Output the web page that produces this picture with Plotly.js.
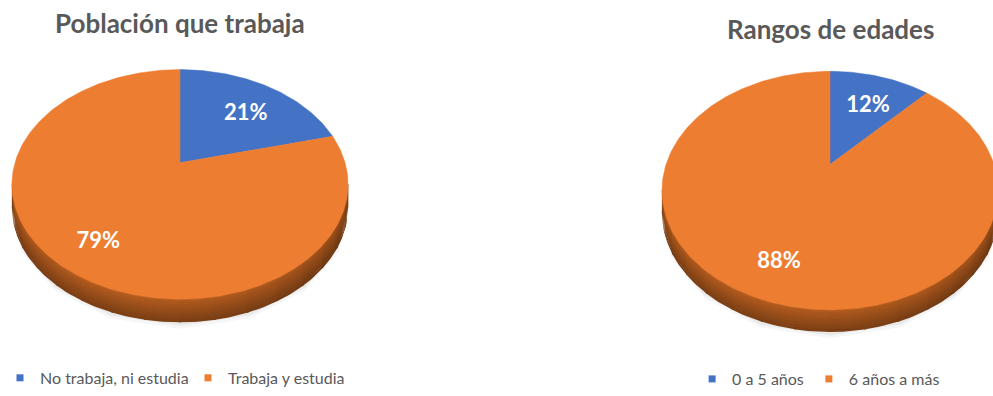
<!DOCTYPE html>
<html><head><meta charset="utf-8">
<script src="https://cdn.plot.ly/plotly-3.0.1.min.js"></script>
<style>html,body{margin:0;padding:0;background:#fff}#chart{width:993px;height:396px}</style>
</head><body><div id="chart"></div>
<script>
// ---- data ----
const chart1Title = "Población que trabaja";
const chart1Labels = ["No trabaja, ni estudia", "Trabaja y estudia"];
const chart1Values = [21, 79];
const chart2Title = "Rangos de edades";
const chart2Labels = ["0 a 5 años", "6 años a más"];
const chart2Values = [12, 88];

// ---- styles ----
const sliceColors = ["#4472C4", "#ED7D31"];
const sideColors = ["#2E5596", "#B05A1E"];
const textGray = "#595959";
const FONT = "Lato, 'Open Sans', sans-serif";

// ---- layout geometry of the tilted 3D pies (pixel space) ----
const pies = [
  {title: chart1Title, labels: chart1Labels, values: chart1Values, legend: "legend",
   cx: 180, cy: 166, A: 113, B: 165, k: 0.19, depth: 23, tx: 180, ty: 23},
  {title: chart2Title, labels: chart2Labels, values: chart2Values, legend: "legend2",
   cx: 830, cy: 168, A: 116, B: 164, k: 0.218, depth: 22, tx: 830, ty: 29.5}
];

function proj(p, r, deg) {
  const t = deg * Math.PI / 180;
  const rc = r * Math.cos(t), rs = r * Math.sin(t);
  const den = 1 + p.k * rs;
  return [p.cx + p.B * rc / den, p.cy - p.A * rs / den];
}
function shade(hex, f) {
  const n = parseInt(hex.slice(1), 16);
  const c = [(n >> 16) & 255, (n >> 8) & 255, n & 255].map(v => Math.max(0, Math.min(255, Math.round(v * f))));
  return "rgb(" + c.join(",") + ")";
}
function sidePoly(p, d1, d2, z1, z2) {
  const xs = [], ys = [], m = 8;
  for (let q = 0; q <= m; q++) { const pt = proj(p, 1, d1 + (d2 - d1) * q / m); xs.push(pt[0]); ys.push(pt[1] + z1); }
  for (let q = m; q >= 0; q--) { const pt = proj(p, 1, d1 + (d2 - d1) * q / m); xs.push(pt[0]); ys.push(pt[1] + z2); }
  return [xs, ys];
}

const traces = [];
const annotations = [];
const bands = 9;

pies.forEach(p => {
  const total = p.values.reduce((a, b) => a + b, 0);
  let cum = 0;
  const slices = p.values.map((v, i) => {
    const hi = 90 - 360 * cum / total;
    cum += v;
    const lo = 90 - 360 * cum / total;
    return {i, lo, hi, v};
  });
  const a = Math.asin(p.k) * 180 / Math.PI;
  const fLo = 180 + a, fHi = 360 - a;
  // soft shadow under the pie
  [[7, 0.035], [4, 0.05]].forEach(([dz, op]) => {
    const sh = sidePoly(p, fLo - 2, fHi + 2, 0, p.depth + dz);
    traces.push({type: "scatter", mode: "lines", x: sh[0], y: sh[1], fill: "toself",
      fillcolor: "rgba(0,0,0," + op + ")", line: {width: 0}, hoverinfo: "skip", showlegend: false});
  });
  // visible front side of the rim
  slices.forEach(s => {
    [-360, 0, 360].forEach(off => {
      const lo = Math.max(s.lo + off, fLo), hi = Math.min(s.hi + off, fHi);
      if (hi <= lo) return;
      const base = sidePoly(p, lo, hi, 0, p.depth);
      const bc = shade(sideColors[s.i], 0.8);
      traces.push({type: "scatter", mode: "lines", x: base[0], y: base[1], fill: "toself", fillcolor: bc,
        line: {color: bc, width: 0.6}, hoverinfo: "skip", showlegend: false});
      const n = Math.max(1, Math.ceil((hi - lo) / 10));
      for (let j = 0; j < n; j++) {
        const d1 = lo + (hi - lo) * j / n, d2 = lo + (hi - lo) * (j + 1) / n;
        const mid = (d1 + d2) / 2 * Math.PI / 180;
        const front = Math.max(0, -Math.sin(mid));
        for (let b = 0; b < bands; b++) {
          const z1 = p.depth * b / bands, z2 = p.depth * (b + 1) / bands + 0.5;
          const f = (0.8 + 0.18 * front - 0.05 * Math.cos(mid)) * (1.02 - 0.3 * b / (bands - 1));
          const poly = sidePoly(p, Math.max(lo, d1 - 0.3), Math.min(hi, d2 + 0.3), z1, z2);
          const col = shade(sideColors[s.i], f);
          traces.push({type: "scatter", mode: "lines", x: poly[0], y: poly[1], fill: "toself", fillcolor: col,
            line: {width: 0}, hoverinfo: "skip", showlegend: false});
        }
      }
    });
  });
  // top faces
  slices.forEach(s => {
    const xs = [p.cx], ys = [p.cy];
    const n = Math.max(2, Math.ceil((s.hi - s.lo)));
    for (let q = 0; q <= n; q++) { const pt = proj(p, 1, s.hi - (s.hi - s.lo) * q / n); xs.push(pt[0]); ys.push(pt[1]); }
    xs.push(p.cx); ys.push(p.cy);
    traces.push({type: "scatter", mode: "lines", x: xs, y: ys, fill: "toself", fillcolor: sliceColors[s.i],
      line: {color: sliceColors[s.i], width: 0.5}, name: p.labels[s.i],
      text: p.labels[s.i] + ": " + s.v + "%", hoverinfo: "text", hoveron: "fills", showlegend: false});
  });
  // data labels
  const lx = [], ly = [], lt = [];
  slices.forEach(s => {
    const pt = proj(p, 0.72, (s.lo + s.hi) / 2);
    lx.push(pt[0]); ly.push(pt[1] + 0.4 * p.depth); lt.push(Math.round(s.v / total * 100) + "%");
  });
  traces.push({type: "scatter", mode: "text", x: lx, y: ly, text: lt, textposition: "middle center",
    textfont: {family: FONT, size: 22, color: "#FFFFFF", weight: 700}, hoverinfo: "skip", showlegend: false});
  // legend entries
  p.labels.forEach((lab, i) => {
    traces.push({type: "scatter", mode: "markers", x: [null], y: [null], name: lab, legend: p.legend,
      marker: {symbol: "square", size: 7, color: sliceColors[i]}, hoverinfo: "skip", showlegend: true});
  });
  annotations.push({text: p.title, xref: "x", yref: "y", x: p.tx, y: p.ty, showarrow: false,
    xanchor: "center", yanchor: "middle", font: {family: FONT, size: 26, color: textGray, weight: 700}});
});

const legendBase = {orientation: "h", xanchor: "left", yanchor: "middle", bgcolor: "rgba(0,0,0,0)",
  font: {family: FONT, size: 16, color: textGray}, itemclick: false, itemdoubleclick: false};

const layout = {
  width: 993, height: 396,
  margin: {l: 0, r: 0, t: 0, b: 0},
  paper_bgcolor: "#FFFFFF", plot_bgcolor: "#FFFFFF",
  xaxis: {range: [0, 993], visible: false, fixedrange: true},
  yaxis: {range: [396, 0], visible: false, fixedrange: true},
  showlegend: true,
  legend: Object.assign({}, legendBase, {x: 0.0, y: 0.026, entrywidth: 143}),
  legend2: Object.assign({}, legendBase, {x: 0.697, y: 0.022}),
  annotations: annotations,
  hovermode: "closest"
};

Plotly.newPlot("chart", traces, layout, {displayModeBar: false});
</script>
</body></html>
